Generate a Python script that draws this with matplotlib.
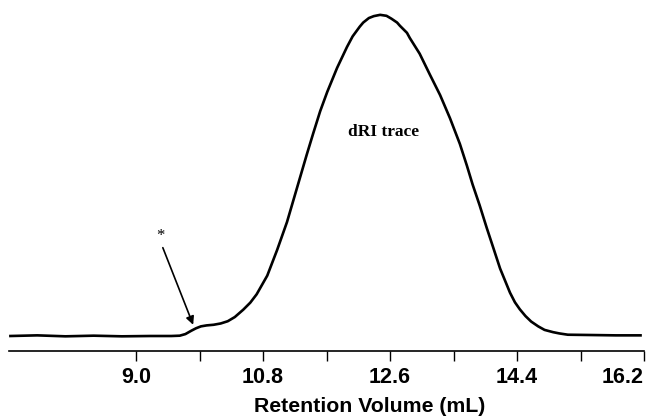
import matplotlib
matplotlib.use('Agg')
import matplotlib.pyplot as plt

#dRI trace, retention volume (mL) vs normalised signal
vol = [7.22, 7.6, 8.0, 8.4, 8.8, 9.2, 9.5, 9.62, 9.70, 9.78, 9.85, 9.92, 10.0,
       10.1, 10.2, 10.3, 10.4, 10.52, 10.62, 10.71, 10.86, 11.0, 11.14, 11.22,
       11.32, 11.42, 11.51, 11.61, 11.71, 11.85, 11.99, 12.07, 12.17, 12.22,
       12.30, 12.37, 12.46, 12.55, 12.62, 12.70, 12.74, 12.84, 12.88, 13.02,
       13.16, 13.31, 13.45, 13.59, 13.69, 13.77, 13.87, 13.97, 14.06, 14.16,
       14.30, 14.37, 14.44, 14.52, 14.60, 14.70, 14.79, 14.91, 15.0, 15.12,
       15.47, 15.8, 16.15]
dri = [0.0, 0.002, -0.001, 0.001, -0.001, 0.0, 0.0, 0.001, 0.006, 0.016, 0.024,
       0.030, 0.033, 0.035, 0.039, 0.046, 0.059, 0.082, 0.104, 0.130, 0.188,
       0.268, 0.355, 0.415, 0.490, 0.565, 0.630, 0.700, 0.760, 0.835, 0.900,
       0.933, 0.963, 0.976, 0.990, 0.996, 1.0, 0.997, 0.988, 0.976, 0.966,
       0.944, 0.928, 0.879, 0.816, 0.750, 0.678, 0.598, 0.530, 0.472, 0.407,
       0.337, 0.277, 0.210, 0.135, 0.105, 0.083, 0.062, 0.045, 0.030, 0.019,
       0.012, 0.008, 0.004, 0.003, 0.002, 0.002]

ticks = [9.0, 10.8, 12.6, 14.4, 16.2]
minor_ticks = [9.9, 11.7, 13.5, 15.3]
tick_labels = ['9.0', '10.8', '12.6', '14.4', '16.2']

fig = plt.figure(figsize=(6.48, 4.16), dpi=100)
ax = fig.add_axes([0.0139, 0.15625, 0.98, 0.832])

ax.plot(vol, dri, color='black', lw=1.9, solid_joinstyle='round')

ax.set_xlim(7.2, 16.2)
ax.set_ylim(-0.0467, 1.031)

#only the bottom axis is drawn
for s in ['top', 'left', 'right']:
    ax.spines[s].set_visible(False)
ax.spines['bottom'].set_linewidth(1.2)
ax.set_yticks([])

ax.set_xticks(ticks + minor_ticks)
ax.set_xticklabels(tick_labels + [''] * len(minor_ticks),
                   fontfamily='Liberation Sans', fontweight='bold', fontsize=15.5)
ax.tick_params(axis='x', direction='out', length=7.5, width=1.0, pad=4)
ax.get_xticklabels()[4].set_horizontalalignment('right')

fig.text(370 / 648, 1 - 406 / 416, 'Retention Volume (mL)', ha='center', va='center',
         fontfamily='Liberation Sans', fontweight='bold', fontsize=15.3)

ax.text(12.51, 0.636, 'dRI trace', ha='center', va='center',
        fontfamily='Liberation Serif', fontweight='bold', fontsize=12.5)

#arrow to the small shoulder
ax.annotate('', xy=(9.81, 0.035), xytext=(9.38, 0.275),
            arrowprops=dict(arrowstyle='-|>', color='black', lw=1.2,
                            mutation_scale=12, shrinkA=0, shrinkB=0))
ax.text(9.34, 0.31, '*', ha='center', va='center',
        fontfamily='Liberation Serif', fontsize=12)

fig.savefig('out.png', dpi=100)
